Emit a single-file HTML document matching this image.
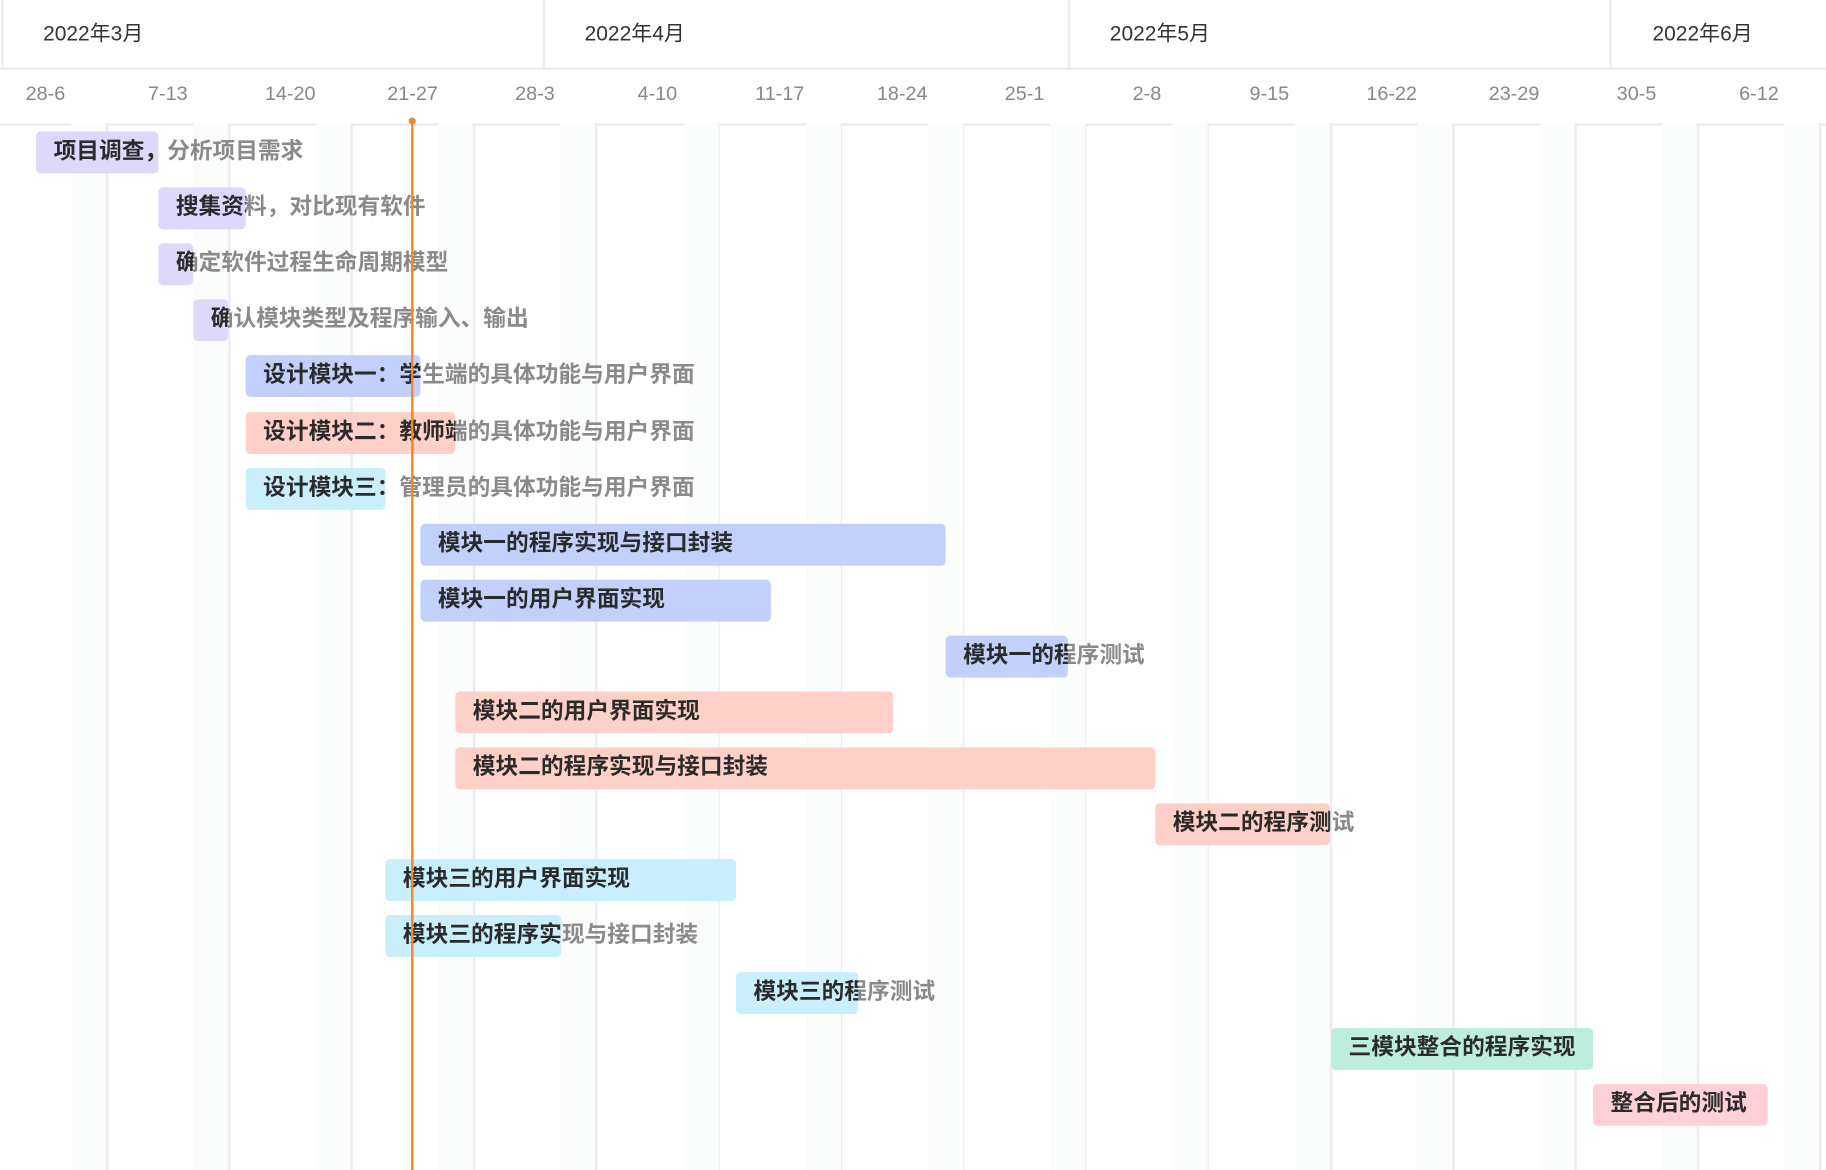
<!DOCTYPE html>
<html><head><meta charset="utf-8"><style>
html,body{margin:0;padding:0;background:#fff;overflow:hidden;width:1826px;height:1170px}
#c{position:absolute;left:0;top:0;width:1568px;height:1005px;transform:scale(1.16454,1.16418);transform-origin:0 0;font-family:"Liberation Sans","Noto Sans CJK SC",sans-serif}
.a{position:absolute}
.m{position:absolute;top:15px;font-size:18px;color:#333}
.w{position:absolute;top:71px;font-size:17px;color:#888;width:80px;text-align:center}
.shade{position:absolute;top:106px;bottom:0;width:30px;background:#fbfcfc}
.g{position:absolute;top:106px;bottom:0;width:1.5px;background:#ebebf5}
.t{position:absolute;height:36px;line-height:35px;font-size:19.5px;font-weight:bold;color:#8a8a8a;white-space:nowrap}
.b{position:absolute;height:36px;border-radius:4px;overflow:hidden}
.b span{position:absolute;left:15px;top:0;line-height:35px;font-size:19.5px;font-weight:bold;color:#2b2b2b;white-space:nowrap}
</style></head><body><div id="c">
<div class="a" style="left:0;top:58px;width:1568px;height:1.5px;background:#ebebf5"></div>
<div class="a" style="left:0;top:106px;width:1568px;height:1.5px;background:#ebebf5"></div>
<div class="a" style="left:1px;top:0;width:1.5px;height:58px;background:#ebebf5"></div>
<div class="a" style="left:466px;top:0;width:1.5px;height:58px;background:#ebebf5"></div>
<div class="a" style="left:917px;top:0;width:1.5px;height:58px;background:#ebebf5"></div>
<div class="a" style="left:1382px;top:0;width:1.5px;height:58px;background:#ebebf5"></div>
<div class="m" style="left:37px">2022年3月</div>
<div class="m" style="left:502px">2022年4月</div>
<div class="m" style="left:953px">2022年5月</div>
<div class="m" style="left:1419px">2022年6月</div>
<div id="wk"></div>
<div class="a" style="left:353px;top:104px;width:2px;height:901px;background:#f5862a;z-index:1"></div>
<div class="a" style="left:351px;top:101px;width:6px;height:6px;border-radius:3px;background:#f5862a;z-index:1"></div>
<div id="bars"></div>
</div>
<script>
var wk=["28-6","7-13","14-20","21-27","28-3","4-10","11-17","18-24","25-1","2-8","9-15","16-22","23-29","30-5","6-12"];
var h="";
for(var i=0;i<15;i++){h+='<div class="w" style="left:'+(39+105.1*i-40)+'px">'+wk[i]+'</div>';}
for(var i=0;i<15;i++){var x=91+105.1*i;h+='<div class="shade" style="left:'+(x-30)+'px"></div>';if(x<1568)h+='<div class="g" style="left:'+x+'px"></div>';}
document.getElementById('wk').outerHTML=h;
var P="#ddd8fc",B="#c3d0fc",S="#ffd0c8",C="#c9eefc",G="#bdeedd",K="#ffd0d8";
var bars=[[31,136,P,"项目调查，分析项目需求"],[136,211,P,"搜集资料，对比现有软件"],[136,166,P,"确定软件过程生命周期模型"],[166,196,P,"确认模块类型及程序输入、输出"],[211,361,B,"设计模块一：学生端的具体功能与用户界面"],[211,391,S,"设计模块二：教师端的具体功能与用户界面"],[211,331,C,"设计模块三：管理员的具体功能与用户界面"],[361,812,B,"模块一的程序实现与接口封装"],[361,662,B,"模块一的用户界面实现"],[812,917,B,"模块一的程序测试"],[391,767,S,"模块二的用户界面实现"],[391,992,S,"模块二的程序实现与接口封装"],[992,1142,S,"模块二的程序测试"],[331,632,C,"模块三的用户界面实现"],[331,482,C,"模块三的程序实现与接口封装"],[632,737,C,"模块三的程序测试"],[1143,1368,G,"三模块整合的程序实现"],[1368,1518,K,"整合后的测试"]];
var s="";
bars.forEach(function(b,i){var y=113+48.1*i;
s+='<div class="t" style="left:'+(b[0]+15)+'px;top:'+y+'px">'+b[3]+'</div>';
s+='<div class="b" style="left:'+b[0]+'px;top:'+y+'px;width:'+(b[1]-b[0])+'px;background:'+b[2]+'"><span>'+b[3]+'</span></div>';});
document.getElementById('bars').outerHTML=s;
</script>
</body></html>
